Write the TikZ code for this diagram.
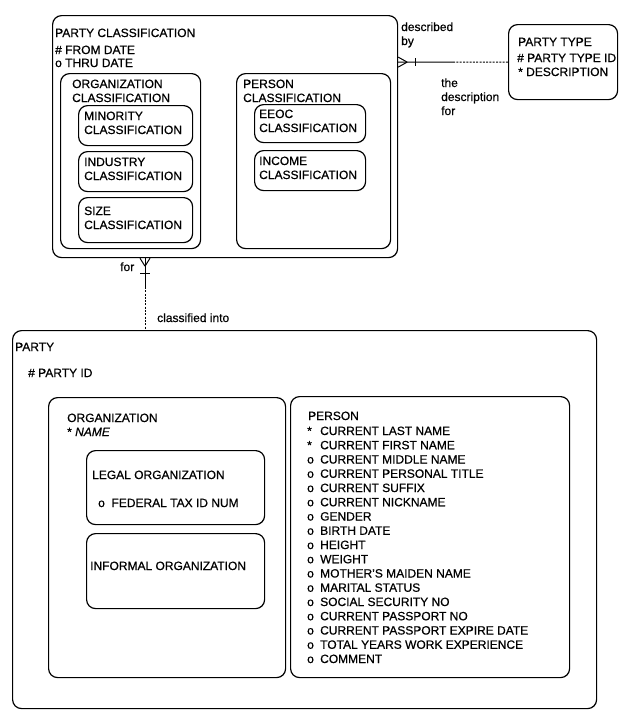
\documentclass[tikz,border=0pt]{standalone}
\usepackage{fontspec}
\setmainfont[FakeBold=0.6]{Liberation Sans}
\usetikzlibrary{calc}
\begin{document}
\begin{tikzpicture}[x=1pt,y=-1pt,
  ent/.style={draw, line width=1.2pt, rounded corners=9pt, inner sep=0pt, anchor=north west},
  txt/.style={inner sep=0pt, anchor=base west, font=\fontsize{12}{14.25}\selectfont},
  rel/.style={line width=1pt},
  opt/.style={line width=1pt, dash pattern=on 2pt off 1.3pt}]
\useasboundingbox (0,0) rectangle (636,713);
% ---------- PARTY CLASSIFICATION ----------
\node[ent, minimum width=345pt, minimum height=242pt] (pc) at (52,15) {};
\node[txt] (pct) at (55,37) {PARTY CLASSIFICATION};
\node[txt] (pca1) at (55,54) {\# FROM DATE};
\node[txt] (pca2) at (55,67) {o THRU DATE};
\node[ent, minimum width=140pt, minimum height=175pt] (oc) at (60,73) {};
\node[txt] (oct1) at (72,88) {ORGANIZATION};
\node[txt] (oct2) at (72,102) {CLASSIFICATION};
\node[ent, minimum width=114pt, minimum height=40pt] (mino) at (78,105) {};
\node[txt] (minot1) at (84,120) {MINORITY};
\node[txt] (minot2) at (84,134) {CLASSIFICATION};
\node[ent, minimum width=114pt, minimum height=40pt] (indu) at (78,151) {};
\node[txt] (indut1) at (84,166) {INDUSTRY};
\node[txt] (indut2) at (84,180) {CLASSIFICATION};
\node[ent, minimum width=114pt, minimum height=45pt] (size) at (78,197) {};
\node[txt] (sizet1) at (84,215) {SIZE};
\node[txt] (sizet2) at (84,229) {CLASSIFICATION};
\node[ent, minimum width=154pt, minimum height=175pt] (pcl) at (236,73) {};
\node[txt] (pclt1) at (243,88) {PERSON};
\node[txt] (pclt2) at (243,102) {CLASSIFICATION};
\node[ent, minimum width=111pt, minimum height=38pt] (eeoc) at (254,104) {};
\node[txt] (eeoct1) at (259,118) {EEOC};
\node[txt] (eeoct2) at (259,132) {CLASSIFICATION};
\node[ent, minimum width=111pt, minimum height=40pt] (inc) at (254,150) {};
\node[txt] (inct1) at (259,165) {INCOME};
\node[txt] (inct2) at (259,179) {CLASSIFICATION};
% ---------- PARTY TYPE ----------
\node[ent, minimum width=109pt, minimum height=75pt] (pt) at (508,24) {};
\node[txt] (ptt) at (518,46) {PARTY TYPE};
\node[txt] (pta1) at (517,62) {\# PARTY TYPE ID};
\node[txt] (pta2) at (518,76) {* DESCRIPTION};
% relationship PARTY CLASSIFICATION -- PARTY TYPE
\coordinate (h0) at (pc.east |- pt.west);
\coordinate (hm) at ($(h0)!0.5!(pt.west)$);
\draw[rel] (h0) -- (hm);
\draw[opt] (hm) -- (pt.west);
\draw[rel] ($(h0)+(9,0)$) -- ($(h0)+(0,-5)$) ($(h0)+(9,0)$) -- ($(h0)+(0,5)$);
\draw[rel] ($(h0)+(17,-4)$) -- ($(h0)+(17,4)$);
\node[txt] (l1a) at (401,31) {described};
\node[txt] (l1b) at (401,45) {by};
\node[txt] (l2a) at (441,87) {the};
\node[txt] (l2b) at (441,101) {description};
\node[txt] (l2c) at (441,115) {for};
% ---------- PARTY ----------
\node[ent, minimum width=584pt, minimum height=378pt] (party) at (12,330) {};
\node[txt] (partyt) at (15,351) {PARTY};
\node[txt] (partya) at (28,377) {\# PARTY ID};
% relationship PARTY CLASSIFICATION -- PARTY
\coordinate (v0) at ($(pc.south west)+(93,0)$);
\coordinate (v1) at ($(party.north west)+(133,0)$);
\coordinate (vm) at ($(v0)!0.4!(v1)$);
\draw[rel] (v0) -- (vm);
\draw[opt] (vm) -- (v1);
\draw[rel] ($(v0)+(0,8)$) -- ($(v0)+(-5,0)$) ($(v0)+(0,8)$) -- ($(v0)+(5,0)$);
\draw[rel] ($(v0)+(-5,15)$) -- ($(v0)+(5,15)$);
\node[txt] (l3) at (120,271) {for};
\node[txt] (l4) at (157,322) {classified into};
% ORGANIZATION
\node[ent, minimum width=237pt, minimum height=280pt] (org) at (48,397) {};
\node[txt] (orgt) at (67,422) {ORGANIZATION};
\node[txt] (orga) at (67,436) {*\ \textit{NAME}};
\node[ent, minimum width=178pt, minimum height=74pt] (legal) at (86,450) {};
\node[txt] (legalt) at (92,479) {LEGAL ORGANIZATION};
\node[txt] (legala) at (98,507) {o\ \ FEDERAL TAX ID NUM};
\node[ent, minimum width=178pt, minimum height=75pt] (inf) at (86,533) {};
\node[txt] (inft) at (90,570) {INFORMAL ORGANIZATION};
% PERSON
\node[ent, minimum width=279pt, minimum height=281pt] (per) at (290,396) {};
\node[txt] (pert) at (308,420) {PERSON};
\foreach \m/\t [count=\i from 0] in {
  */CURRENT LAST NAME, */CURRENT FIRST NAME, o/CURRENT MIDDLE NAME,
  o/CURRENT PERSONAL TITLE, o/CURRENT SUFFIX, o/CURRENT NICKNAME,
  o/GENDER, o/BIRTH DATE, o/HEIGHT, o/WEIGHT, o/MOTHER'S MAIDEN NAME,
  o/MARITAL STATUS, o/SOCIAL SECURITY NO, o/CURRENT PASSPORT NO,
  o/CURRENT PASSPORT EXPIRE DATE, o/TOTAL YEARS WORK EXPERIENCE, o/COMMENT}
  \node[txt] (pa\i) at (307,{435+14.25*\i}) {\makebox[13pt][l]{\m}\t};
\end{tikzpicture}
\end{document}
